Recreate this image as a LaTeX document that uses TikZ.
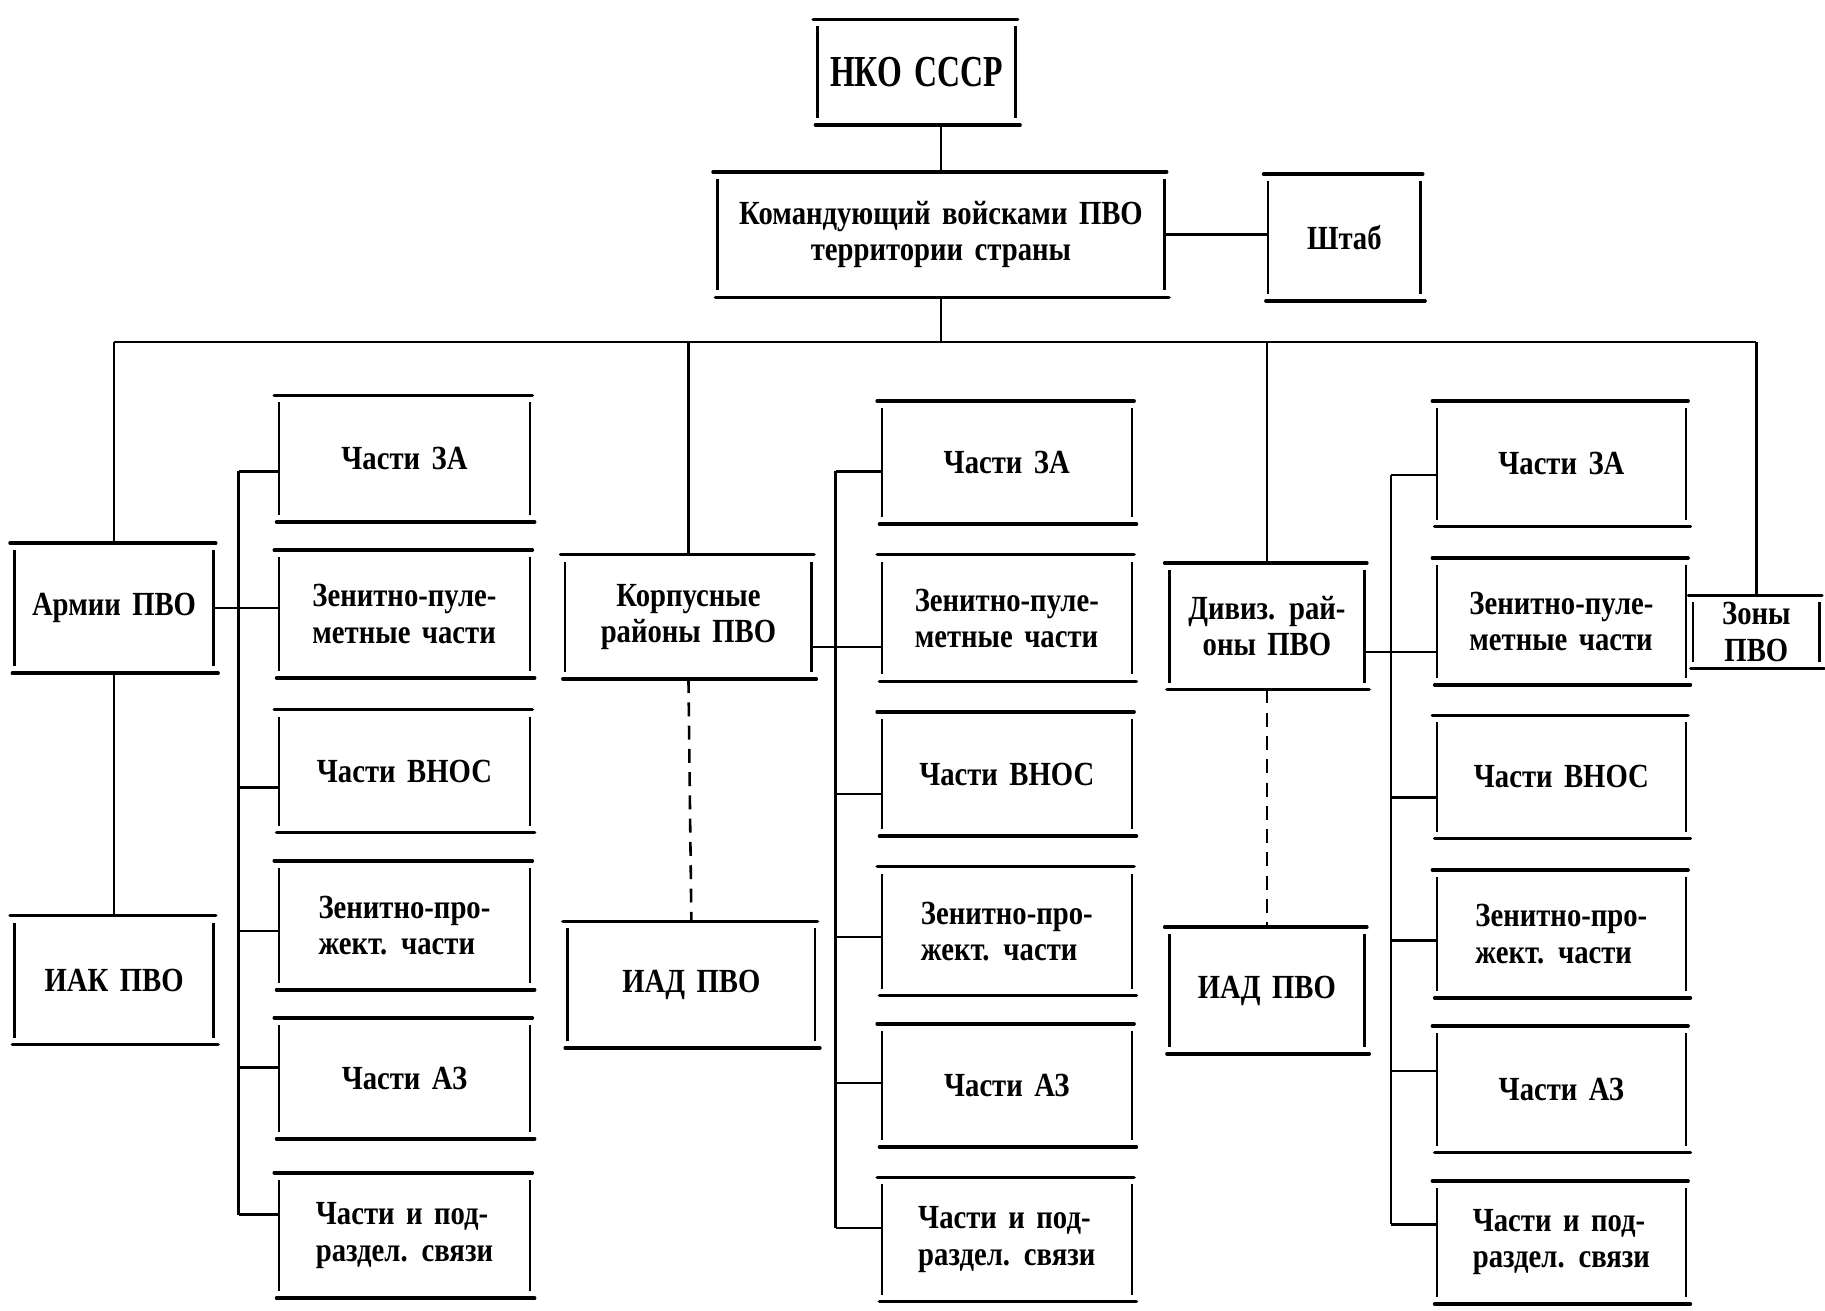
\documentclass[tikz,border=0pt]{standalone}
\usepackage{fontspec}
\setmainfont{Liberation Serif}[FakeStretch=0.85,WordSpace=1.6]
\newfontfamily\nkofont{Liberation Serif}[FakeStretch=0.72,WordSpace=1.6]
\newcommand\Bx[7][center]{\node[bx, align=#1, minimum width={(#5-#3)*0.5pt}, minimum height={(#6-#4)*0.5pt}] (#2) at ({(#3+#5)/2},{(#4+#6)/2}) {#7};}
\tikzset{
  bx/.style={inner sep=0pt, font=\fontsize{14.5}{15.5}\selectfont\bfseries},
  hl/.style={line width=1.5pt, line cap=round},
  vl/.style={line width=1.1pt},
  con/.style={line width=1.1pt},
  dsh/.style={line width=1.1pt, dash pattern=on 6pt off 4pt}
}
\begin{document}
\begin{tikzpicture}[x=0.5pt,y=-0.5pt]
\fill[white] (0,0) rectangle (1568,1126);
\useasboundingbox (0,0) rectangle (1568,1126);
% top
\Bx{nko}{703}{17}{872}{107}{\nkofont\fontsize{19}{20}\selectfont НКО СССР}
\Bx{kom}{617}{148}{1000}{255}{Командующий войсками ПВО\\территории страны}
\Bx{sht}{1090}{150}{1220}{258}{Штаб}
% level 2
\Bx{arm}{13}{467}{183}{578}{Армии ПВО}
\Bx{iak}{13}{787}{183}{897}{ИАК ПВО}
\Bx{kor}{486}{477}{697}{583}{Корпусные\\районы ПВО}
\Bx{iad1}{488}{792}{700}{900}{ИАД ПВО}
\Bx{div}{1005}{484}{1172}{592}{Дивиз. рай-\\оны ПВО}
\Bx{iad2}{1005}{797}{1172}{905}{ИАД ПВО}
\Bx{zon}{1455}{512}{1563}{574}{Зоны\\ПВО}
% column 1
\Bx{za1}{240}{340}{455}{448}{Части ЗА}
\Bx[left]{zp1}{240}{473}{455}{582}{Зенитно-пуле-\\метные части}
\Bx{vn1}{240}{610}{455}{715}{Части ВНОС}
\Bx[left]{pr1}{240}{740}{455}{850}{Зенитно-про-\\жект. части}
\Bx{az1}{240}{875}{455}{978}{Части АЗ}
\Bx[left]{sv1}{240}{1008}{455}{1115}{Части и под-\\раздел. связи}
% column 2
\Bx{za2}{758}{345}{972}{450}{Части ЗА}
\Bx[left]{zp2}{758}{477}{972}{585}{Зенитно-пуле-\\метные части}
\Bx{vn2}{758}{612}{972}{718}{Части ВНОС}
\Bx[left]{pr2}{758}{745}{972}{855}{Зенитно-про-\\жект. части}
\Bx{az2}{758}{880}{972}{985}{Части АЗ}
\Bx[left]{sv2}{758}{1012}{972}{1118}{Части и под-\\раздел. связи}
% column 3
\Bx{za3}{1235}{345}{1448}{452}{Части ЗА}
\Bx[left]{zp3}{1235}{480}{1448}{588}{Зенитно-пуле-\\метные части}
\Bx{vn3}{1235}{615}{1448}{720}{Части ВНОС}
\Bx[left]{pr3}{1235}{748}{1448}{857}{Зенитно-про-\\жект. части}
\Bx{az3}{1235}{882}{1448}{990}{Части АЗ}
\Bx[left]{sv3}{1235}{1015}{1448}{1120}{Части и под-\\раздел. связи}

% box outlines
\foreach \n in {nko,kom,sht,arm,iak,kor,iad1,div,iad2,zon,za1,zp1,vn1,pr1,az1,sv1,za2,zp2,vn2,pr2,az2,sv2,za3,zp3,vn3,pr3,az3,sv3}{
  \draw[hl] ([xshift=-2pt]\n.north west) -- ([xshift=1pt]\n.north east);
  \draw[hl] ([xshift=-1pt]\n.south west) -- ([xshift=2pt]\n.south east);
  \draw[vl] ([yshift=-3pt]\n.north west) -- ([yshift=3pt]\n.south west);
  \draw[vl] ([yshift=-3pt]\n.north east) -- ([yshift=3pt]\n.south east);
}

% top connectors
\draw[con] (kom.north) -- (kom.north |- nko.south);
\draw[con] (kom.east) -- (kom.east -| sht.west);
\coordinate (bus) at (0,294);
\draw[con] (kom.south) -- (kom.south |- bus);
\draw[con] (arm.north |- bus) -- (zon.north |- bus);
\draw[con] (arm.north) -- (arm.north |- bus);
\draw[con] (kor.north) -- (kor.north |- bus);
\draw[con] (div.north) -- (div.north |- bus);
\draw[con] (zon.north) -- (zon.north |- bus);

% lower links
\draw[con] (arm.south) -- (iak.north);
\draw[dsh] (kor.south) -- (iad1.north);
\draw[dsh] (div.south) -- (iad2.north);

% rails
\coordinate (r1) at (205,0);
\coordinate (r2) at (718,0);
\coordinate (r3) at (1195,0);
\draw[con] (arm.east) -- (arm.east -| zp1.west);
\draw[con] ([yshift=-13pt]kor.east) -- ([yshift=-13pt]kor.east -| zp2.west);
\draw[con] ([yshift=-11pt]div.east) -- ([yshift=-11pt]div.east -| zp3.west);
\draw[con] ([yshift=-5.5pt]za1.west -| r1) -- ([yshift=9pt]sv1.west -| r1);
\draw[con] ([yshift=-3.75pt]za2.west -| r2) -- ([yshift=5pt]sv2.west -| r2);
\draw[con] ([yshift=-4.75pt]za3.west -| r3) -- ([yshift=7.75pt]sv3.west -| r3);
\foreach \n/\d in {za1/-5.5,vn1/-7,pr1/-2.5,az1/4.75,sv1/9}{\draw[con] ([yshift=\d pt]\n.west) -- ([yshift=\d pt]\n.west -| r1);}
\foreach \n/\d in {za2/-3.75,vn2/-8.5,pr2/-2.5,az2/1,sv2/5}{\draw[con] ([yshift=\d pt]\n.west) -- ([yshift=\d pt]\n.west -| r2);}
\foreach \n/\d in {za3/-4.75,vn3/-8.75,pr3/-2.75,az3/8,sv3/7.75}{\draw[con] ([yshift=\d pt]\n.west) -- ([yshift=\d pt]\n.west -| r3);}
\end{tikzpicture}
\end{document}
